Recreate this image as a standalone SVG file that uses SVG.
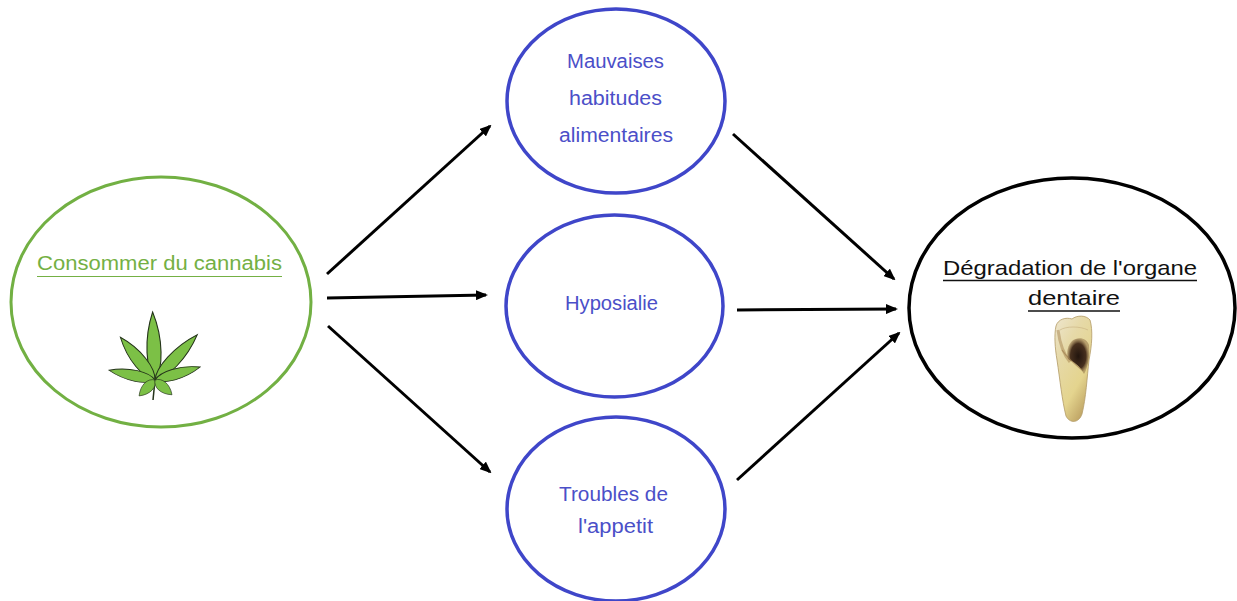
<svg xmlns="http://www.w3.org/2000/svg" width="1237" height="601" viewBox="0 0 1237 601">
<defs>
<style>
.txt{font-family:"Liberation Sans",Arial,sans-serif;font-size:19.5px;}
.blue{fill:#4b4fc8;}
.mid{fill:none;stroke:#3f46c9;stroke-width:3.5;}
.con{stroke:#000;stroke-width:3;fill:none;marker-end:url(#ah);}
.leaf{fill:#7cc046;stroke:#24331a;stroke-width:1;}
</style>
<marker id="ah" markerWidth="12" markerHeight="10" refX="10" refY="5" orient="auto" markerUnits="userSpaceOnUse" viewBox="0 0 12 10">
<path d="M0,0 L12,5 L0,10 Z" fill="#000"/>
</marker>
<path id="lf" d="M0,0 C8,-8 30,-9 50,0 C30,9 8,8 0,0 Z"/>
<linearGradient id="tg" x1="0" y1="0" x2="0.6" y2="1">
<stop offset="0" stop-color="#eee6cf"/>
<stop offset="0.35" stop-color="#e6d9a8"/>
<stop offset="0.75" stop-color="#e4d48e"/>
<stop offset="1" stop-color="#c2a868"/>
</linearGradient>
<radialGradient id="cg" cx="0.5" cy="0.5" r="0.5">
<stop offset="0" stop-color="#22150e"/>
<stop offset="0.7" stop-color="#47301e"/>
<stop offset="1" stop-color="#8a6a40" stop-opacity="0.5"/>
</radialGradient>
</defs>
<rect width="1237" height="601" fill="#fff"/>

<g id="connectors">
<line class="con" x1="327" y1="274" x2="490" y2="126"/>
<line class="con" x1="327" y1="298" x2="486" y2="295"/>
<line class="con" x1="328" y1="326" x2="490" y2="472"/>
<line class="con" x1="733" y1="134" x2="894" y2="279"/>
<line class="con" x1="737" y1="310" x2="896" y2="309"/>
<line class="con" x1="737" y1="480" x2="899" y2="333"/>
</g>

<g id="node-cannabis">
<ellipse cx="161" cy="302" rx="150" ry="125" fill="none" stroke="#72b043" stroke-width="3"/>
<text class="txt" x="37" y="270" fill="#74b044" textLength="245" lengthAdjust="spacingAndGlyphs">Consommer du cannabis</text>
<line x1="37" y1="276.5" x2="282" y2="276.5" stroke="#74b044" stroke-width="1.2"/>
<g id="leaf">
<line x1="155" y1="380" x2="153" y2="400" stroke="#24331a" stroke-width="1.5"/>
<use href="#lf" class="leaf" transform="translate(155,380) rotate(-92) scale(1.36,1.1)"/>
<use href="#lf" class="leaf" transform="translate(155,380) rotate(-129) scale(1.1,1)"/>
<use href="#lf" class="leaf" transform="translate(155,380) rotate(-47) scale(1.24,1)"/>
<use href="#lf" class="leaf" transform="translate(155,380) rotate(-168) scale(0.94,0.85)"/>
<use href="#lf" class="leaf" transform="translate(155,380) rotate(-16) scale(0.94,0.85)"/>
<use href="#lf" class="leaf" transform="translate(155,380) rotate(135) scale(0.45,0.8)"/>
<use href="#lf" class="leaf" transform="translate(155,380) rotate(41) scale(0.45,0.8)"/>
</g>
</g>

<g id="node-mauvaises">
<ellipse class="mid" cx="616" cy="101" rx="109" ry="92"/>
<text class="txt blue" x="567" y="68" textLength="97" lengthAdjust="spacingAndGlyphs">Mauvaises</text>
<text class="txt blue" x="569" y="105" textLength="93" lengthAdjust="spacingAndGlyphs">habitudes</text>
<text class="txt blue" x="559" y="142" textLength="114" lengthAdjust="spacingAndGlyphs">alimentaires</text>
</g>

<g id="node-hyposialie">
<ellipse class="mid" cx="614.5" cy="306" rx="108.5" ry="91"/>
<text class="txt blue" x="565" y="310" textLength="93" lengthAdjust="spacingAndGlyphs">Hyposialie</text>
</g>

<g id="node-troubles">
<ellipse class="mid" cx="616" cy="509" rx="109" ry="92"/>
<text class="txt blue" x="559" y="501" textLength="109" lengthAdjust="spacingAndGlyphs">Troubles de</text>
<text class="txt blue" x="578" y="533" textLength="75" lengthAdjust="spacingAndGlyphs">l'appetit</text>
</g>

<g id="node-degradation">
<ellipse cx="1072" cy="308" rx="163" ry="130" fill="none" stroke="#000" stroke-width="3.5"/>
<text class="txt" x="943" y="275" fill="#111" style="font-size:21px" textLength="254" lengthAdjust="spacingAndGlyphs">Dégradation de l'organe</text>
<line x1="943" y1="280.5" x2="1197" y2="280.5" stroke="#111" stroke-width="1.3"/>
<text class="txt" x="1028" y="305" fill="#111" style="font-size:21px" textLength="92" lengthAdjust="spacingAndGlyphs">dentaire</text>
<line x1="1028" y1="311" x2="1120" y2="311" stroke="#111" stroke-width="1.3"/>
<g id="tooth">
<path d="M1056,326 C1058,319 1066,317 1072,319 C1077,315 1086,315 1090,320 C1093,330 1092,345 1089,360 C1087,378 1086,398 1082,414 C1079,423 1070,424 1066,416 C1062,400 1060,380 1057,360 C1055,348 1054,335 1056,326 Z" fill="url(#tg)" stroke="#b39a66" stroke-width="0.8"/>
<path d="M1058,330 C1060,345 1064,355 1070,362" stroke="#a07a45" stroke-width="3" fill="none" opacity="0.45"/>
<path d="M1072,341 C1078,336 1087,338 1089,345 C1090,356 1088,368 1084,374 C1080,366 1074,362 1068,359 C1066,352 1068,345 1072,341 Z" fill="url(#cg)"/>
<path d="M1062,350 C1066,356 1072,362 1082,370" stroke="#a08050" stroke-width="1.2" fill="none" opacity="0.7"/>
<path d="M1060,330 C1066,326 1080,326 1088,330" stroke="#c8b080" stroke-width="1" fill="none" opacity="0.6"/>
</g>
</g>
</svg>
